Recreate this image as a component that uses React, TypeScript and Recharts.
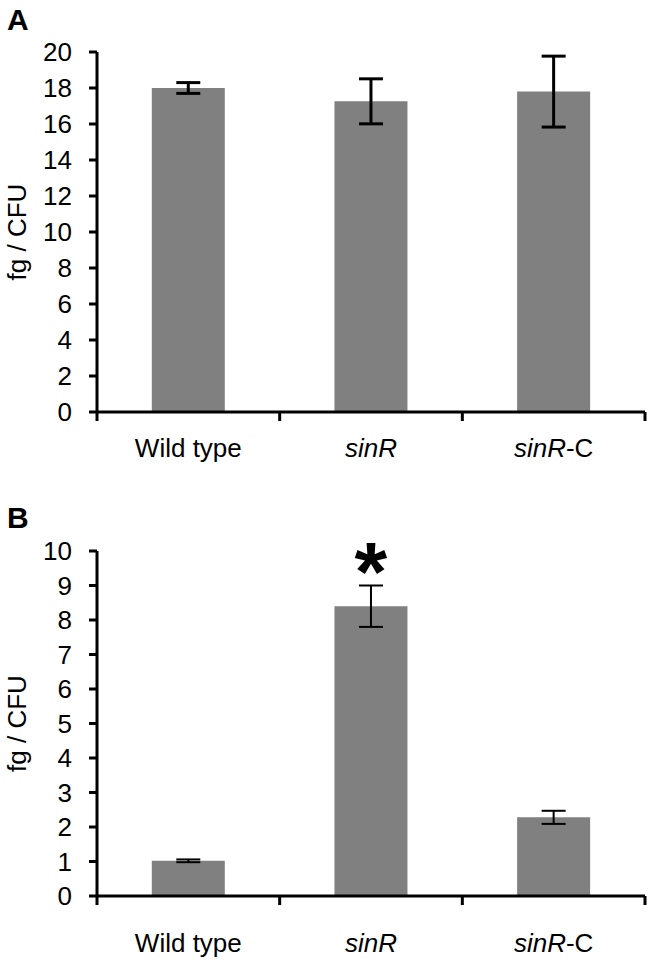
import React from "react";
import { BarChart, Bar, XAxis, YAxis, ErrorBar, LabelList } from "recharts";

const categories = ["Wild type", "sinR", "sinR-C"];
const valuesA = [18.0, 17.26, 17.8];
const errorsA = [0.3, 1.25, 1.97];
const valuesB = [1.02, 8.4, 2.28];
const errorsB = [0.04, 0.6, 0.19];
const significanceB = ["", "*", ""];
const ticksA = [0, 2, 4, 6, 8, 10, 12, 14, 16, 18, 20];
const ticksB = [0, 1, 2, 3, 4, 5, 6, 7, 8, 9, 10];
const yLabel = "fg / CFU";

const dataA = categories.map((name, i) => ({ name, value: valuesA[i], err: errorsA[i] }));
const dataB = categories.map((name, i) => ({ name, value: valuesB[i], err: errorsB[i], sig: significanceB[i] }));

const FONT = "'Liberation Sans', Arial, sans-serif";
const FS = 26;

const makeCatTick = (labelGap: number) => (props: any) => {
  const { x, y, payload, index, visibleTicksCount } = props;
  const v: string = payload.value;
  const half = payload.offset || 0;
  const italic = v.startsWith("sinR");
  const isLast = index === visibleTicksCount - 1;
  return (
    <g>
      <line x1={x - half} x2={x - half} y1={y} y2={y + 9} stroke="#000" strokeWidth={3} />
      {isLast ? <line x1={x + half} x2={x + half} y1={y} y2={y + 9} stroke="#000" strokeWidth={3} /> : null}
      <text x={x} y={y + labelGap} dy="0.355em" textAnchor="middle" fontFamily={FONT} fontSize={FS} fill="#000">
        {italic ? (
          <>
            <tspan fontStyle="italic">sinR</tspan>
            <tspan>{v.slice(4)}</tspan>
          </>
        ) : (
          v
        )}
      </text>
    </g>
  );
};

const YTitle = (props: any) => {
  const { viewBox } = props;
  const cx = 26;
  const cy = viewBox.y + viewBox.height / 2;
  return (
    <text
      x={cx}
      y={cy}
      transform={`rotate(-90, ${cx}, ${cy})`}
      textAnchor="middle"
      fontFamily={FONT}
      fontSize={FS}
      fill="#000"
    >
      {yLabel}
    </text>
  );
};

const Star = (props: any) => {
  const { x, y, width, value } = props;
  if (!value) return null;
  return (
    <text x={x + width / 2} y={y - 5} textAnchor="middle" fontFamily={FONT} fontWeight="bold" fontSize={84} fill="#000">
      {value}
    </text>
  );
};

const axisStroke = { stroke: "#000", strokeWidth: 3 };

function Panel({ data, ticks, max, height, top, bottomGap, labelGap, errWidth, withStar }: any) {
  return (
    <BarChart
      width={654}
      height={height}
      data={data}
      margin={{ top, right: 9, bottom: 0, left: 0 }}
      barCategoryGap="30%"
    >
      <XAxis
        dataKey="name"
        axisLine={axisStroke}
        tickLine={false}
        tickSize={0}
        tickMargin={0}
        tick={makeCatTick(labelGap)}
        height={bottomGap}
        interval={0}
      />
      <YAxis
        domain={[0, max]}
        ticks={ticks}
        width={97}
        tickSize={8}
        tickMargin={17}
        axisLine={axisStroke}
        tickLine={axisStroke}
        tick={{ fill: "#000", fontFamily: FONT, fontSize: FS }}
        interval={0}
        label={<YTitle />}
      />
      <Bar dataKey="value" fill="#808080" isAnimationActive={false}>
        <ErrorBar dataKey="err" width={12} strokeWidth={errWidth} stroke="#000" direction="y" />
        {withStar ? <LabelList dataKey="sig" content={<Star />} /> : null}
      </Bar>
    </BarChart>
  );
}

const Title = ({ text, top }: any) => (
  <div
    style={{
      position: "absolute",
      left: 7,
      top,
      fontFamily: FONT,
      fontWeight: "bold",
      fontSize: 30,
      lineHeight: "30px",
      color: "#000",
    }}
  >
    {text}
  </div>
);

export default function App() {
  return (
    <div style={{ position: "absolute", left: 0, top: 0, width: 654, height: 963, background: "#fff" }}>
      <div style={{ position: "absolute", left: 0, top: 0 }}>
        <Panel data={dataA} ticks={ticksA} max={20} height={480} top={52} bottomGap={68} labelGap={36} errWidth={3} />
      </div>
      <div style={{ position: "absolute", left: 0, top: 480 }}>
        <Panel data={dataB} ticks={ticksB} max={10} height={483} top={71} bottomGap={67} labelGap={47} errWidth={2} withStar />
      </div>
      <Title text="A" top={5} />
      <Title text="B" top={503} />
    </div>
  );
}
